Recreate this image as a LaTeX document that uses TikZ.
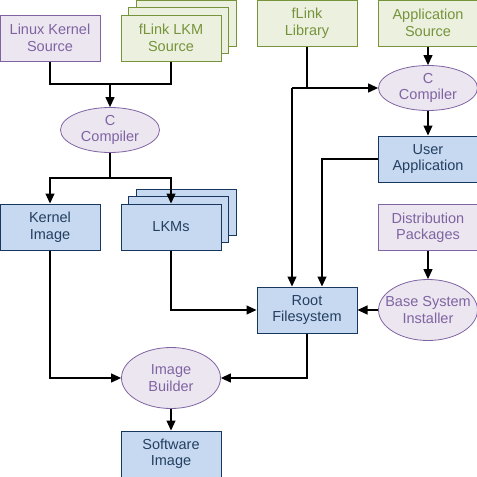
\documentclass[tikz,border=0pt]{standalone}
\usepackage{fontspec}
\setmainfont{Liberation Sans}
\usepackage{tikz}
\usetikzlibrary{shapes.geometric}
\usetikzlibrary{arrows.meta}

\definecolor{purpfill}{HTML}{EBE6F0}
\definecolor{purpline}{HTML}{8064A2}
\definecolor{grnfill}{HTML}{EBF1DE}
\definecolor{grnline}{HTML}{77933C}
\definecolor{bluefill}{HTML}{C6D9F1}
\definecolor{blueline}{HTML}{17375E}
\definecolor{bluetext}{HTML}{243F60}

\tikzset{
  srcbox/.style={rectangle, draw=purpline, fill=purpfill, text=purpline, line width=1pt,
    minimum width=100pt, minimum height=46pt, inner sep=0pt, align=center},
  flbox/.style={rectangle, draw=grnline, fill=grnfill, text=grnline, line width=1pt,
    minimum width=100pt, minimum height=46pt, inner sep=0pt, align=center},
  outbox/.style={rectangle, draw=blueline, fill=bluefill, text=bluetext, line width=1pt,
    minimum width=100pt, minimum height=46pt, inner sep=0pt, align=center},
  tool/.style={ellipse, draw=purpline, fill=purpfill, text=purpline, line width=0.8pt,
    minimum width=99pt, minimum height=45pt, inner sep=0pt, align=center},
  tooltall/.style={tool, minimum width=99pt, minimum height=61pt, inner xsep=-8pt}
}

\begin{document}
\begin{tikzpicture}[x=1pt,y=-1pt,font=\fontsize{14.5}{16.5}\selectfont,
    every edge/.style=thick, conn/.style={line width=1.2pt, -{Triangle[length=10pt,width=9pt]}}]
            \useasboundingbox (0,0) rectangle (477,477);

            % sources
            \node[srcbox] (ks) at (50,38){Linux Kernel\\Source};
            \node[flbox] (ls3) at (186,23){};
            \node[flbox] (ls2) at (178.5,30.5){};
            \node[flbox] (ls) at (171,38){fLink LKM\\Source};
            \node[flbox] (fl) at (307,23){fLink\\Library};
            \node[flbox] (as) at (428,23){Application\\Source};
            \node[srcbox] (dp) at (428,227.5){Distribution\\Packages};

            % tools
            \node[tool] (cc) at (110,130){C\\Compiler};
            \node[tool] (cc2) at (428,88){C\\Compiler};
            \node[tooltall] (bsi) at (428,310){Base System\\Installer};
            \node[tooltall] (ib) at (171,378){Image\\Builder};

            % outputs
            \node[outbox] (ki) at (50,227){Kernel\\Image};
            \node[outbox] (lkm3) at (186,212){};
            \node[outbox] (lkm2) at (178.5,219.5){};
            \node[outbox] (lkm) at (171,227){LKMs};
            \node[outbox] (ua) at (428,159){User\\Application};
            \node[outbox] (rf) at (307,310){Root\\Filesystem};
            \node[outbox] (si) at (171,454){Software\\Image};

            \coordinate (j1) at (110,84);
            \coordinate (j2) at (110,178);
            \coordinate (j3) at ([xshift=-15pt]rf.north |- cc2.west);
            \coordinate (j4) at ([xshift=15pt]rf.north);

            \draw[line width=1.2pt] (ks.south) |- (j1);
            \draw[line width=1.2pt] (ls.south) |- (j1);
            \draw[conn] (j1) -- (cc.north);
            \draw[line width=1.2pt] (cc.south) -- (j2);
            \draw[conn] (j2) -| (ki.north);
            \draw[conn] (j2) -| (lkm.north);
            \draw[conn] (lkm.south) |- (rf.west);

            \draw[conn] (fl.south) |- (cc2.west);
            \draw[line width=1.2pt] (j3) -- (fl |- j3);
            \draw[conn] (j3) -- ([xshift=-15pt]rf.north);
            \draw[conn] (as) -- (cc2);
            \draw[conn] (cc2) -- (ua);
            \draw[conn] (ua.west) -| (j4);

            \draw[conn] (dp) -- (bsi);
            \draw[conn] (bsi) -- (rf);
            \draw[conn] (ki.south) |- (ib.west);
            \draw[conn] (rf.south) |- (ib.east);
            \draw[conn] (ib) -- (si);
        \end{tikzpicture}
\end{document}
